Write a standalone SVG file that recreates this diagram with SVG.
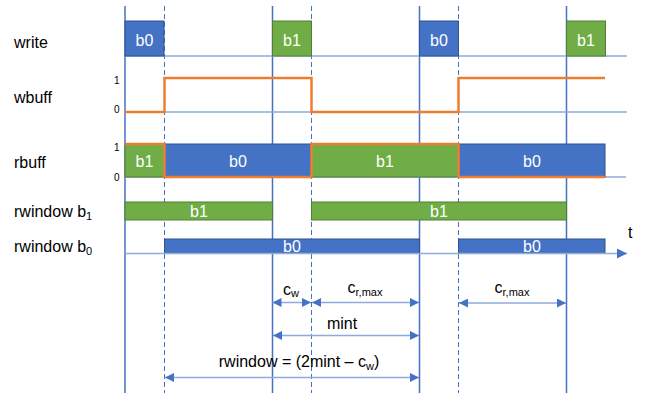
<svg xmlns="http://www.w3.org/2000/svg" width="645" height="393" viewBox="0 0 645 393">
<style>
text{font-family:"Liberation Sans",Arial,sans-serif;}
.lbl{font-size:16px;fill:#000;}
.lvl{font-size:10px;fill:#000;text-anchor:end;}
.in{font-size:16px;fill:#fff;text-anchor:middle;}
.dim{font-size:16px;fill:#000;text-anchor:middle;}
.sub{font-size:11px;}
.blue{fill:#4472C4;stroke:#2F528F;stroke-width:1;}
.green{fill:#70AD47;stroke:#507E32;stroke-width:1;}
.vs{stroke:#4472C4;stroke-width:1.5;fill:none;}
.vd{stroke:#4472C4;stroke-width:1;stroke-dasharray:5,3;fill:none;}
.base{stroke:#8FAADC;stroke-width:1.5;fill:none;}
.sig{stroke:#ED7D31;stroke-width:2.5;fill:none;stroke-linejoin:miter;}
.arr{stroke:#8FAADC;stroke-width:1.5;fill:none;marker-start:url(#ah);marker-end:url(#ah);}
</style>
<defs>
<marker id="ah" viewBox="0 0 10 10" refX="10" refY="5" markerWidth="9" markerHeight="9" markerUnits="userSpaceOnUse" orient="auto-start-reverse">
<path d="M0,0 L10,5 L0,10 Z" fill="#4472C4"/>
</marker>
<marker id="ah1" viewBox="0 0 10 10" refX="10" refY="5" markerWidth="10" markerHeight="10" markerUnits="userSpaceOnUse" orient="auto">
<path d="M0,0 L10,5 L0,10 Z" fill="#4472C4"/>
</marker>
</defs>
<rect width="645" height="393" fill="#fff"/>

<g id="grid">
<line class="vs" x1="125" y1="6" x2="125" y2="393"/>
<line class="vs" x1="272.5" y1="6" x2="272.5" y2="393"/>
<line class="vs" x1="419.5" y1="6" x2="419.5" y2="393"/>
<line class="vs" x1="566.5" y1="6" x2="566.5" y2="393"/>
<line class="vd" x1="164.5" y1="6" x2="164.5" y2="393"/>
<line class="vd" x1="311.5" y1="6" x2="311.5" y2="393"/>
<line class="vd" x1="458.5" y1="6" x2="458.5" y2="393"/>
<line class="base" x1="125" y1="56" x2="627" y2="56"/>
<line class="base" x1="125" y1="112" x2="627" y2="112"/>
<line class="base" x1="125" y1="177" x2="626" y2="177"/>
</g>

<g id="labels">
<text class="lbl" x="14" y="47.5">write</text>
<text class="lbl" x="14" y="102.5">wbuff</text>
<text class="lbl" x="14" y="168">rbuff</text>
<text class="lbl" x="14" y="217">rwindow b<tspan class="sub" dy="3">1</tspan></text>
<text class="lbl" x="14" y="251.5">rwindow b<tspan class="sub" dy="3">0</tspan></text>
<text class="lvl" x="119.5" y="84">1</text>
<text class="lvl" x="119.5" y="113">0</text>
<text class="lvl" x="119.5" y="150.5">1</text>
<text class="lvl" x="119.5" y="181">0</text>
</g>

<g id="write-b0-1"><rect class="blue" x="125" y="21" width="39" height="35"/><text class="in" x="144.5" y="45.5">b0</text></g>
<g id="write-b1-1"><rect class="green" x="272.5" y="21" width="39" height="35"/><text class="in" x="292" y="45.5">b1</text></g>
<g id="write-b0-2"><rect class="blue" x="419.5" y="21" width="39" height="35"/><text class="in" x="439" y="45.5">b0</text></g>
<g id="write-b1-2"><rect class="green" x="566.5" y="21" width="39" height="35"/><text class="in" x="586" y="45.5">b1</text></g>

<g id="wbuff"><polyline class="sig" points="125,112 164.5,112 164.5,78 311.5,78 311.5,112 458.5,112 458.5,78 605,78"/></g>

<g id="rbuff">
<g id="rbuff-b1-1"><rect class="green" x="125" y="144" width="39.5" height="33"/><text class="in" x="144.5" y="167">b1</text></g>
<g id="rbuff-b0-1"><rect class="blue" x="164.5" y="144" width="147" height="33"/><text class="in" x="238" y="167">b0</text></g>
<g id="rbuff-b1-2"><rect class="green" x="311.5" y="144" width="147" height="33"/><text class="in" x="385" y="167">b1</text></g>
<g id="rbuff-b0-2"><rect class="blue" x="458.5" y="144" width="146.5" height="33"/><text class="in" x="532" y="167">b0</text></g>
<polyline class="sig" points="125,144 164.5,144 164.5,177 311.5,177 311.5,144 458.5,144 458.5,177 605,177"/>
</g>

<g id="rwindow-b1-1"><rect class="green" x="125" y="202" width="147.5" height="18"/><text class="in" x="199" y="216.5">b1</text></g>
<g id="rwindow-b1-2"><rect class="green" x="311.5" y="202" width="255" height="18"/><text class="in" x="439" y="216.5">b1</text></g>
<g id="rwindow-b0-1"><rect class="blue" x="164.5" y="239" width="255" height="14.5"/><text class="in" x="292" y="252">b0</text></g>
<g id="rwindow-b0-2"><rect class="blue" x="458.5" y="239" width="146.5" height="14.5"/><text class="in" x="532" y="252">b0</text></g>

<g id="time-axis">
<line class="base" x1="125" y1="253.5" x2="627" y2="253.5" marker-end="url(#ah1)"/>
<text class="lbl" x="628" y="238">t</text>
</g>

<g id="connectors">
<line class="arr" x1="272.5" y1="302.5" x2="311" y2="302.5"/>
<line class="arr" x1="312" y1="302.5" x2="419" y2="302.5"/>
<line class="arr" x1="459" y1="303" x2="566" y2="303"/>
<line class="arr" x1="273" y1="335.5" x2="419" y2="335.5"/>
<line class="arr" x1="165" y1="377.5" x2="419" y2="377.5"/>
</g>

<g id="dim-labels">
<text class="dim" x="291" y="294.5">c<tspan class="sub" dy="2">w</tspan></text>
<text class="dim" x="365" y="293">c<tspan class="sub" dy="3">r,max</tspan></text>
<text class="dim" x="512" y="293">c<tspan class="sub" dy="3">r,max</tspan></text>
<text class="dim" x="342" y="329">mint</text>
<text class="dim" x="299" y="367">rwindow = (2mint – c<tspan class="sub" dy="3">w</tspan><tspan dy="-3">)</tspan></text>
</g>
</svg>
